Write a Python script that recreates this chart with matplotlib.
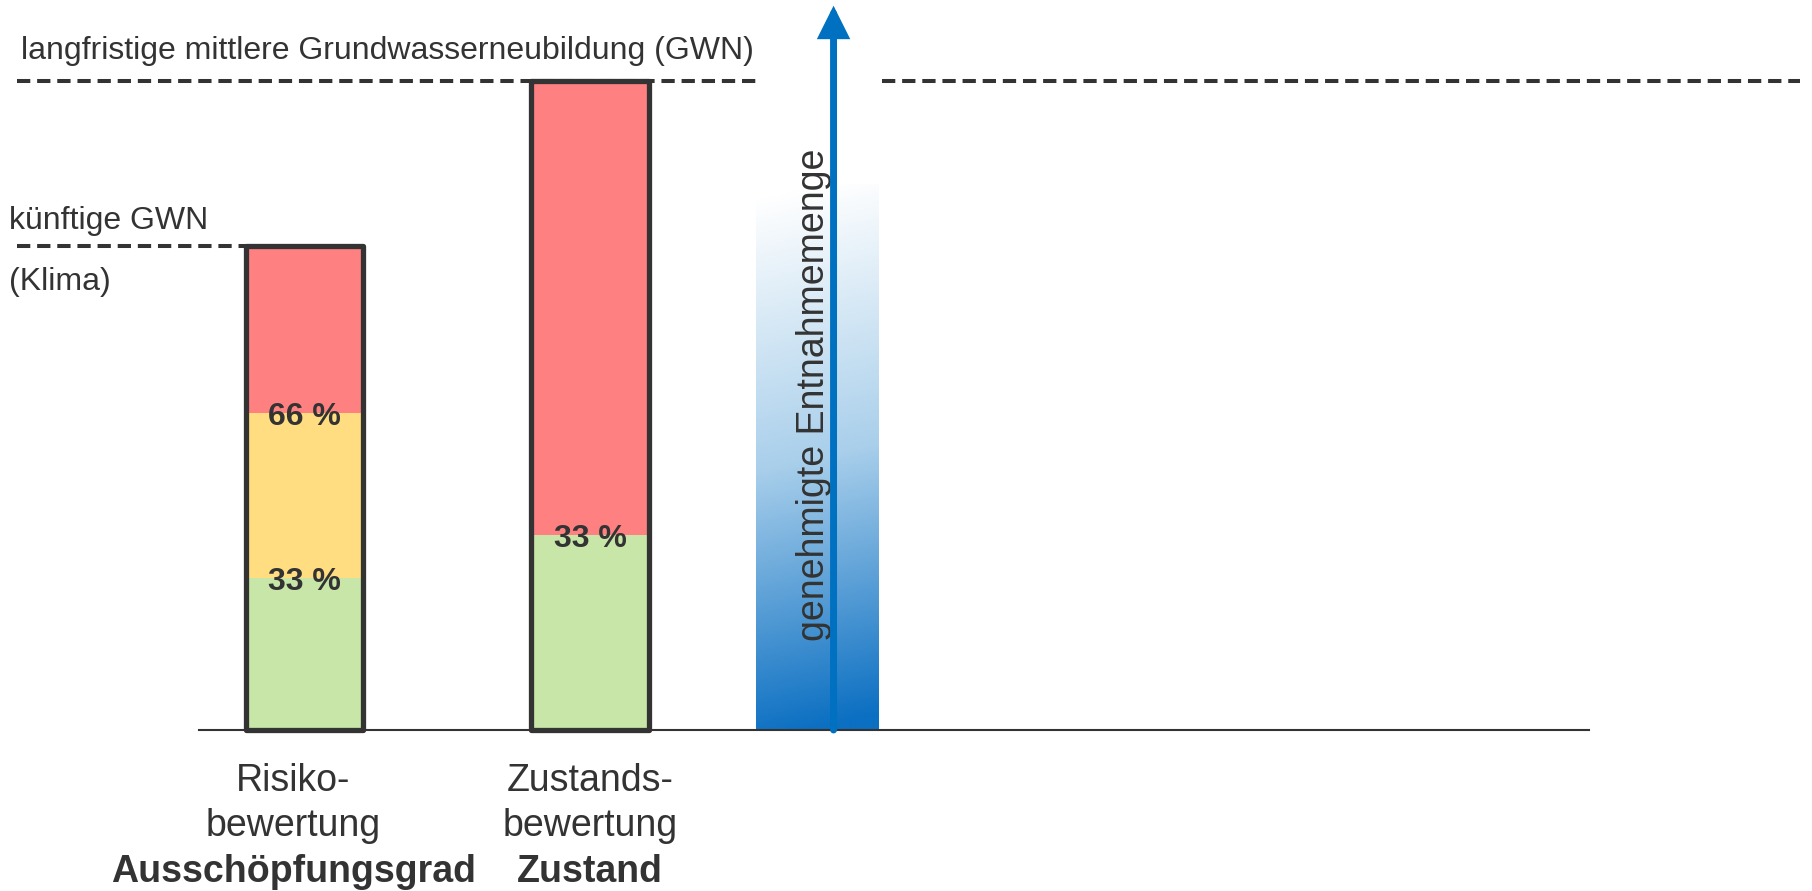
import matplotlib
matplotlib.use("Agg")
import matplotlib.pyplot as plt
import numpy as np
from matplotlib.colors import LinearSegmentedColormap

plt.rcParams['font.family'] = ['Liberation Sans', 'DejaVu Sans']

# ---- data ----
categories = ['Risiko-\nbewertung', 'Zustands-\nbewertung']
bold_labels = ['Ausschöpfungsgrad', 'Zustand']
gruen = [23.4, 30.0]
gelb = [25.4, 0.0]
rot = [25.8, 70.0]
pct_labels_1 = ['33 %', '66 %']
pct_labels_2 = ['33 %']
gwn_langfristig = 100.0
gwn_kuenftig = 74.6
entnahme_top = 84.0

TXT = '#333333'
C_RED = '#FF8080'
C_YEL = '#FFDD80'
C_GRN = '#C8E6A7'
C_BLUE = '#0070C0'

fig = plt.figure(figsize=(18.12, 8.91), dpi=100)
ax = fig.add_axes([0, 0, 1, 1])
ax.set_xlim(-1.0665, 5.280)
ax.set_ylim(-24.81, 112.48)
ax.axis('off')

x = np.arange(len(categories))
w = 0.41
g = np.array(gruen); y_ = np.array(gelb); r = np.array(rot)
ax.bar(x, g, width=w, color=C_GRN, linewidth=0, zorder=2)
ax.bar(x, y_, width=w, bottom=g, color=C_YEL, linewidth=0, zorder=2)
ax.bar(x, r, width=w, bottom=g + y_, color=C_RED, linewidth=0, zorder=2)
ax.bar(x, g + y_ + r, width=w, fill=False, edgecolor=TXT, linewidth=3.8, zorder=4,
       joinstyle='round')

# percent labels
ax.text(x[0], g[0], pct_labels_1[0], ha='center', va='center_baseline', fontsize=23,
        fontweight='bold', color=TXT, zorder=5)
ax.text(x[0], g[0] + y_[0], pct_labels_1[1], ha='center', va='center_baseline', fontsize=23,
        fontweight='bold', color=TXT, zorder=5)
ax.text(x[1], g[1], pct_labels_2[0], ha='center', va='center_baseline', fontsize=23,
        fontweight='bold', color=TXT, zorder=5)

# baseline
ax.plot([-0.3695, 4.5], [0, 0], color=TXT, lw=1.5, zorder=3)

# dashed reference lines
dash = (0, (3.3, 1.7))
ax.plot([-1.007, 1.585], [gwn_langfristig, gwn_langfristig], color=TXT, lw=2.9,
        linestyle=dash, zorder=3)
ax.plot([2.022, 5.238], [gwn_langfristig, gwn_langfristig], color=TXT, lw=2.9,
        linestyle=dash, zorder=3)
ax.plot([-1.007, x[0] - w / 2], [gwn_kuenftig, gwn_kuenftig], color=TXT, lw=2.9,
        linestyle=dash, zorder=3)

ax.text(-0.993, 104.6, 'langfristige mittlere Grundwasserneubildung (GWN)', ha='left',
        va='center', fontsize=23, color=TXT)
ax.text(-1.035, 78.4, 'künftige GWN', ha='left', va='center', fontsize=23, color=TXT)
ax.text(-1.035, 69.0, '(Klima)', ha='left', va='center', fontsize=23, color=TXT)

# gradient column
xc = 1.797
cmap = LinearSegmentedColormap.from_list('bl', ['#FFFFFF', '#A9CFEB', '#0B6FC2'])
ny, nx = 300, 60
yy = np.linspace(1, 0, ny)[:, None]
xx = np.linspace(0, 1, nx)[None, :]
val = np.clip(1 - yy + 0.05 * (xx - 0.5), 0, 1)
ax.imshow(val, cmap=cmap, extent=[xc - w / 2 - 0.01, xc + w / 2 + 0.01, 0, entnahme_top],
          aspect='auto', zorder=1, vmin=0, vmax=1, interpolation='bilinear')

ax.text(1.784, 51.6, 'genehmigte Entnahmemenge', rotation=90, ha='center', va='center',
        fontsize=27, color=TXT, zorder=5)

ax.annotate('', xy=(1.853, 111.6), xytext=(1.853, 0),
            arrowprops=dict(arrowstyle='-|>,head_length=0.4,head_width=0.2', color=C_BLUE,
                            lw=5.0, mutation_scale=40, shrinkA=0, shrinkB=0,
                            joinstyle='miter'), zorder=6)

# category labels
label_x = [x[0] - 0.04, x[1]]
for xi, cat, bl in zip(label_x, categories, bold_labels):
    ax.text(xi, -11.4, cat, ha='center', va='center', fontsize=27, color=TXT,
            linespacing=1.32)
    ax.text(xi, -21.85, bl, ha='center', va='center', fontsize=27, color=TXT,
            fontweight='bold')

fig.savefig('out.png', dpi=100)
